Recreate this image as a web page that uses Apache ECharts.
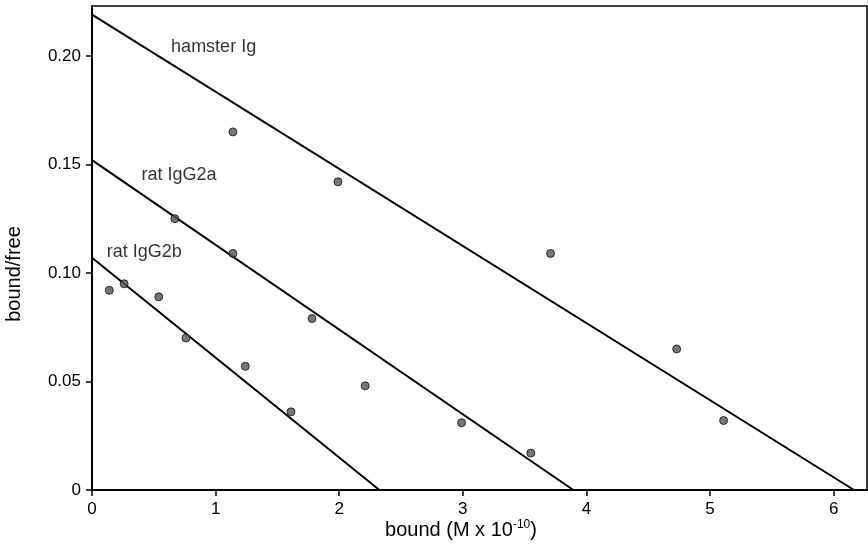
<!DOCTYPE html>
<html>
<head>
<meta charset="utf-8">
<script src="https://cdn.jsdelivr.net/npm/echarts@6/dist/echarts.min.js"></script>
<style>
html,body{margin:0;padding:0;background:#fff;}
#c{width:868px;height:551px;}
</style>
</head>
<body>
<div id="c"></div>
<script>
// ---- data ----
const xTicks = [0, 1, 2, 3, 4, 5, 6];
const yTicks = [0, 0.05, 0.10, 0.15, 0.20];

const hamsterX = [1.14, 1.99, 3.71, 4.73, 5.11];
const hamsterY = [0.165, 0.142, 0.109, 0.065, 0.032];

const g2aX = [0.67, 1.14, 1.78, 2.21, 2.99, 3.55];
const g2aY = [0.125, 0.109, 0.079, 0.048, 0.031, 0.017];

const g2bX = [0.14, 0.26, 0.54, 0.76, 1.24, 1.61];
const g2bY = [0.092, 0.095, 0.089, 0.070, 0.057, 0.036];

// fitted lines: y-intercept and x-intercept
const lineNames = ['hamster Ig', 'rat IgG2a', 'rat IgG2b'];
const lineYIntercepts = [0.219, 0.152, 0.107];
const lineXIntercepts = [6.165, 3.894, 2.325];

// label anchor positions (data coords)
const labelX = [0.64, 0.40, 0.12];
const labelY = [0.204, 0.145, 0.1097];

const zip = (xs, ys) => xs.map((x, i) => [x, ys[i]]);

const chart = echarts.init(document.getElementById('c'), null, {renderer: 'canvas'});
const FONT = '"Liberation Sans", Arial, Helvetica, sans-serif';

const pointStyle = {
  type: 'scatter',
  symbol: 'circle',
  symbolSize: 8,
  itemStyle: {color: '#555', borderColor: '#111', borderWidth: 1},
  z: 5
};

const series = [];
lineNames.forEach((n, i) => {
  series.push({
    type: 'line',
    name: n + ' fit',
    data: [[0, lineYIntercepts[i]], [lineXIntercepts[i], 0]],
    symbol: 'none',
    lineStyle: {color: '#000', width: 2},
    silent: true,
    z: 3
  });
});
series.push(Object.assign({name: 'hamster Ig', data: zip(hamsterX, hamsterY)}, pointStyle));
series.push(Object.assign({name: 'rat IgG2a', data: zip(g2aX, g2aY)}, pointStyle));
series.push(Object.assign({name: 'rat IgG2b', data: zip(g2bX, g2bY)}, pointStyle));
series.push({
  type: 'scatter',
  name: 'labels',
  symbolSize: 0,
  data: lineNames.map((n, i) => ({name: n, value: [labelX[i], labelY[i]]})),
  label: {
    show: true,
    position: 'right',
    distance: 0,
    formatter: p => p.name,
    color: '#000',
    fontSize: 18,
    fontFamily: FONT
  },
  silent: true,
  z: 6
});

chart.setOption({
  animation: false,
  backgroundColor: '#fff',
  grid: {
    left: 92, top: 6, right: 1, bottom: 61,
    show: true, borderColor: '#000', borderWidth: 1.5,
    containLabel: false
  },
  xAxis: {
    type: 'value',
    min: 0, max: 6.27, interval: 1,
    splitLine: {show: false},
    axisLine: {show: true, lineStyle: {color: '#000', width: 2}},
    axisTick: {show: true, inside: false, length: 6, lineStyle: {color: '#000', width: 1.5}, customValues: xTicks},
    axisLabel: {
      color: '#000', fontSize: 17, fontFamily: FONT, margin: 11,
      customValues: xTicks,
      formatter: v => String(v)
    }
  },
  yAxis: {
    type: 'value',
    min: 0, max: 0.223, interval: 0.05,
    splitLine: {show: false},
    axisLine: {show: true, lineStyle: {color: '#000', width: 2}},
    axisTick: {show: true, inside: false, length: 6, lineStyle: {color: '#000', width: 1.5}, customValues: yTicks},
    axisLabel: {
      color: '#000', fontSize: 17, fontFamily: FONT, margin: 11,
      customValues: yTicks,
      formatter: v => (v === 0 ? '0' : v.toFixed(2))
    }
  },
  graphic: [
    {
      type: 'text',
      x: 14, y: 274,
      rotation: Math.PI / 2,
      style: {
        text: 'bound/free',
        fontSize: 20, fontFamily: FONT, fill: '#000',
        align: 'center', verticalAlign: 'middle'
      }
    },
    {
      type: 'text',
      x: 461, y: 530,
      style: {
        text: '{a|bound (M x 10}{s|-10}{a|)}',
        rich: {
          a: {fontSize: 20, fontFamily: FONT, fill: '#000', color: '#000'},
          s: {fontSize: 12, fontFamily: FONT, fill: '#000', color: '#000', verticalAlign: 'top', padding: [0, 0, 10, 0]}
        },
        align: 'center', verticalAlign: 'middle'
      }
    }
  ],
  series: series
});
</script>
</body>
</html>
